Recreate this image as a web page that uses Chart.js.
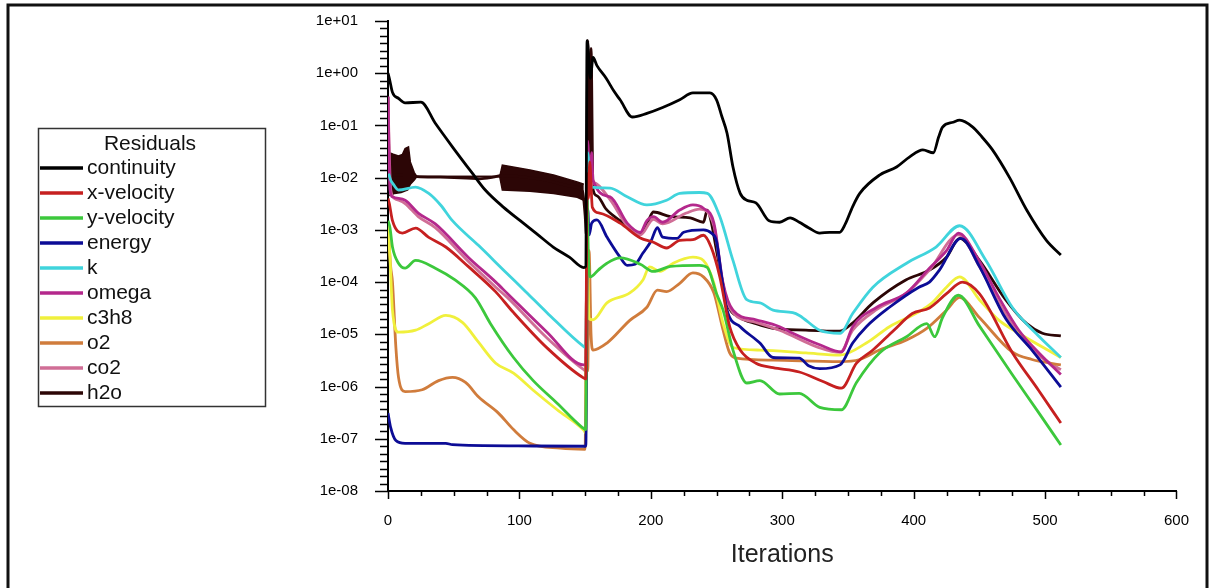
<!DOCTYPE html>
<html>
<head>
<meta charset="utf-8">
<script src="https://cdn.jsdelivr.net/npm/chart.js@4/dist/chart.umd.min.js"></script>
<style>
html,body{margin:0;padding:0;background:#fff;}
canvas{display:block;}
</style>
</head>
<body>
<canvas id="residuals" width="1210" height="588"></canvas>
<script>
// residual histories as [iteration, residual]
const continuity = [[0,1.0],[1,0.8],[3.4,0.43],[8,0.33],[13,0.27],[25,0.28],[36,0.11],[49,0.039],[64,0.0123],[74,0.0058],[88,0.0027],[100.6,0.0015],[113,0.00085],[125.7,0.00047],[138,0.0003],[149,0.00019],[150.5,0.0002],[151.5,4.2],[154,0.8],[156,2.0],[159,1.4],[166,0.8],[172,0.45],[176.6,0.31],[186,0.145],[197,0.17],[209,0.22],[222,0.31],[232,0.42],[245,0.42],[250,0.31],[254,0.15],[258,0.071],[262.5,0.016],[268,0.005],[273,0.0037],[280,0.0033],[290,0.0015],[298,0.0014],[306,0.0017],[313,0.0014],[320,0.0011],[328.5,0.00087],[336,0.0009],[343.7,0.0009],[348,0.0013],[353.6,0.0028],[359,0.005],[374,0.0112],[387,0.016],[397,0.025],[407,0.034],[415,0.03],[419,0.06],[422,0.093],[430,0.115],[435,0.126],[445,0.093],[452,0.06],[460,0.034],[473,0.010],[486,0.0024],[501,0.00063],[512,0.00033]];
const xVelocity = [[0,0.004],[1,0.0032],[3.4,0.0015],[11,0.00087],[21,0.00108],[31,0.00072],[44,0.00047],[61,0.0002],[82,0.000065],[95,0.000027],[121,0.0000055],[149,0.00000145],[150.5,0.0000014],[151.5,0.012],[152.5,0.004],[153.5,0.02],[155.5,0.0027],[161,0.0021],[176.6,0.00135],[192,0.0007],[202,0.00058],[212,0.00045],[222,0.00063],[232,0.00065],[240,0.00079],[246,0.00046],[252.5,0.000126],[260,0.000014],[268,0.000005],[280,0.0000028],[293,0.0000023],[313,0.0000019],[331,0.00000125],[345,0.00000093],[356.5,0.0000028],[369,0.000005],[385,0.000012],[399,0.000025],[412,0.000032],[425,0.00006],[437,0.0001],[450,0.00006],[475,0.0000045],[495,0.00000085],[512,0.0000002]];
const yVelocity = [[0,0.0015],[1.5,0.0011],[3.4,0.00047],[8,0.00023],[13,0.000185],[21,0.00026],[36,0.000185],[51,0.00011],[66.5,0.00005],[78,0.000016],[95.5,0.0000036],[110.5,0.0000013],[128.7,0.00000048],[147.7,0.000000166],[150.5,0.00000015],[151.5,0.004],[152.5,0.0003],[154,0.000126],[160,0.00017],[166.6,0.00023],[176.6,0.00029],[192,0.00022],[202,0.00016],[215,0.0002],[237,0.00021],[243,0.00019],[250,0.00006],[255,0.000029],[262.5,0.000005],[273,0.00000117],[283,0.0000013],[298,0.00000072],[313,0.00000074],[328.5,0.0000004],[345,0.00000036],[356.5,0.0000012],[374,0.0000044],[394.6,0.000009],[410,0.000016],[416,0.000009],[422,0.000021],[434,0.000056],[450,0.0000145],[475,0.0000017],[495,0.00000032],[512,0.000000076]];
const energy = [[0,0.00000031],[2,0.000000166],[6,0.000000093],[13,0.000000082],[44,0.000000082],[49,0.000000077],[99,0.000000073],[150.5,0.000000072],[152,0.0025],[153,0.0008],[155,0.00135],[159,0.00155],[166.6,0.00073],[176.6,0.0003],[182,0.00021],[188,0.00022],[194,0.00036],[200,0.0006],[205,0.0011],[209,0.00073],[220,0.00069],[225,0.0009],[240,0.001],[246,0.00087],[250,0.0006],[254,0.00012],[258,0.000029],[268,0.000014],[283,0.0000068],[293,0.0000036],[313,0.0000035],[320,0.0000025],[328.5,0.0000022],[344,0.0000026],[353.6,0.0000068],[364,0.000014],[381.6,0.000033],[404,0.00008],[412,0.0001],[419.6,0.00017],[436,0.00069],[450,0.0002],[470,0.00002],[490,0.000005],[512,0.00000098]];
const k = [[0.5,0.012],[2,0.009],[4,0.0075],[8,0.0058],[21,0.0066],[31,0.005],[40,0.003],[49,0.0015],[69,0.0005],[89,0.00016],[105,0.000065],[121,0.000026],[149,0.0000058],[150.5,0.0000055],[152,0.03],[153.5,0.008],[155,0.0066],[169,0.0063],[182,0.0043],[197,0.003],[212,0.0037],[222,0.005],[237,0.0052],[243,0.005],[252.5,0.0018],[262.5,0.00026],[273,0.000046],[283,0.00004],[293,0.000029],[308,0.000026],[313,0.000023],[328.5,0.000012],[344,0.0000105],[353.6,0.000025],[369,0.00008],[394.6,0.00023],[417,0.00047],[435,0.0012],[455,0.00026],[475,0.000033],[493,0.0000105],[512,0.0000036]];
const omega = [[0,0.36],[1.5,0.006],[3.4,0.0043],[13,0.0037],[23,0.0021],[36,0.0013],[61,0.0003],[82,0.0001],[91,0.00006],[121,0.000011],[149,0.0000026],[150.5,0.0000026],[152,0.05],[153.5,0.006],[155,0.03],[156,0.009],[169,0.0043],[182,0.00135],[192,0.0009],[197,0.0015],[202,0.0018],[209,0.0014],[222,0.0024],[232,0.003],[240,0.0026],[248,0.00135],[255,0.000095],[262.5,0.000029],[280,0.000019],[298,0.000014],[308,0.0000105],[328.5,0.0000063],[345,0.0000046],[353.6,0.000014],[372,0.000033],[394.6,0.000062],[412,0.000185],[425,0.0004],[434,0.00087],[450,0.00025],[465,0.00005],[480,0.000012],[495,0.0000045],[512,0.0000017]];
const c3h8 = [[0,0.0013],[1.5,0.0003],[3.4,0.000029],[8,0.000011],[21,0.000012],[31,0.000016],[44,0.000023],[56.6,0.000017],[69,0.000007],[82,0.0000028],[95.5,0.0000018],[110.5,0.00000085],[128.7,0.00000036],[149,0.000000145],[150.5,0.00000013],[151.5,0.001],[153,0.00002],[156,0.000019],[166.6,0.00004],[184,0.000062],[194,0.00011],[199,0.000195],[207,0.00016],[217,0.00023],[232,0.0003],[240,0.00026],[248,0.000095],[255,0.000016],[262.5,0.0000056],[283,0.000005],[318,0.0000044],[344,0.000004],[364,0.0000068],[381.6,0.000014],[404,0.000027],[414,0.00004],[425,0.00008],[435,0.000126],[450,0.000046],[465,0.0000185],[480,0.0000105],[512,0.0000036]];
const o2 = [[0,0.0012],[2,0.0002],[3.4,0.0001],[6,0.0000056],[8,0.0000015],[13,0.0000008],[26,0.00000087],[38.5,0.0000013],[49,0.0000015],[59,0.0000012],[69,0.00000063],[84,0.00000031],[95.5,0.00000015],[108,0.000000082],[131,0.000000066],[150,0.000000063],[151,0.00005],[152,0.000002],[153,0.0004],[154.5,0.00001],[156,0.000005],[166.6,0.0000068],[184,0.0000185],[197,0.000033],[205,0.00007],[212,0.000066],[222,0.000095],[232,0.00015],[240,0.000126],[248,0.000062],[255,0.000012],[260,0.0000044],[265,0.0000035],[293,0.0000032],[344,0.000003],[359,0.0000033],[374,0.000005],[394.6,0.0000078],[410,0.000013],[425,0.000029],[435,0.000051],[450,0.000021],[475,0.0000046],[490,0.0000033],[512,0.0000026]];
const co2 = [[0,0.3],[2,0.006],[5,0.004],[13,0.0032],[23,0.0018],[36,0.0011],[61,0.00025],[82,0.00008],[91,0.00005],[121,0.0000085],[149,0.0000021],[150.5,0.000002],[151.5,0.02],[153,0.005],[156,0.008],[169,0.0038],[182,0.0012],[192,0.0008],[202,0.0016],[209,0.0013],[227,0.0021],[237,0.0025],[248,0.0012],[255,0.00008],[262.5,0.000026],[280,0.000017],[298,0.000012],[328.5,0.0000055],[344,0.0000045],[353.6,0.000012],[372,0.00003],[394,0.00006],[412,0.00017],[434,0.0008],[450,0.0002],[465,0.00004],[480,0.00001],[495,0.000004],[512,0.0000021]];
const h2o = [[0,0.35],[1,0.012],[17,0.011],[22,0.0105],[40,0.0102],[60,0.0098],[70,0.0095],[80,0.0102],[87,0.011],[100,0.0105],[120,0.009],[140,0.0068],[148,0.0055],[150,0.0019],[151,0.0008],[152,4.2],[153.5,0.005],[154.5,3.0],[156,0.006],[159,0.0045],[166,0.0025],[176.6,0.0015],[186,0.001],[192,0.00087],[198,0.0015],[202,0.0022],[215,0.0018],[230,0.0017],[240,0.0014],[243,0.0024],[246,0.0014],[250,0.0004],[254,0.00012],[258,0.00004],[268,0.000021],[280,0.000016],[293,0.000013],[318,0.000012],[343.6,0.0000115],[353,0.000016],[369,0.00004],[394,0.00011],[412,0.00017],[425,0.0003],[435,0.00069],[450,0.00026],[470,0.000046],[486,0.000016],[498,0.0000105],[512,0.0000093]];
// envelope of the oscillating h2o stretches
const h2oBandTop = [[1,0.03],[4,0.028],[8,0.026],[11,0.028],[13,0.036],[15.6,0.039],[17,0.02],[20,0.0125],[22,0.0105],[85,0.0105],[87,0.0174],[108,0.014],[126,0.0112],[144,0.0083],[149,0.0075]];
const h2oBandBottom = [[1,0.0045],[5,0.005],[10,0.0052],[15,0.0058],[17,0.0075],[20,0.009],[22,0.0105],[85,0.0105],[87,0.0058],[108,0.0055],[126,0.005],[144,0.0042],[149,0.0037]];

const seriesNames = ['continuity','x-velocity','y-velocity','energy','k','omega','c3h8','o2','co2','h2o'];
const seriesData = [continuity, xVelocity, yVelocity, energy, k, omega, c3h8, o2, co2, h2o];
const seriesColors = ['#000000','#c62020','#3cc83c','#0c0c96','#40d4dc','#b4288c','#f0f03c','#d07c3c','#d06e96','#2c0606'];

const yTickValues = [1e1,1e0,1e-1,1e-2,1e-3,1e-4,1e-5,1e-6,1e-7,1e-8];
const yTickLabels = ['1e+01','1e+00','1e-01','1e-02','1e-03','1e-04','1e-05','1e-06','1e-07','1e-08'];
const xTickValues = [0,100,200,300,400,500,600];
const xTickLabels = ['0','100','200','300','400','500','600'];

const FONT = "'Liberation Sans', Arial, sans-serif";

const datasets = seriesNames.map((name, i) => ({
    label: name,
    data: seriesData[i],
    borderColor: seriesColors[i],
    borderWidth: 2.8,
    pointRadius: 0,
    cubicInterpolationMode: 'monotone',
    fill: false
}));
datasets.push({
    label: '',
    data: h2oBandTop,
    borderColor: seriesColors[9],
    borderWidth: 1.5,
    pointRadius: 0,
    fill: false
});
datasets.push({
    label: '',
    data: h2oBandBottom,
    borderColor: seriesColors[9],
    backgroundColor: seriesColors[9],
    borderWidth: 1.5,
    pointRadius: 0,
    fill: '-1'
});

// frame, tick marks and the boxed legend
const decor = {
    id: 'decor',
    afterDraw(chart) {
        const {ctx, scales: {x, y}} = chart;
        ctx.save();

        ctx.strokeStyle = '#111';
        ctx.lineWidth = 3;
        ctx.strokeRect(8, 5, 1199, 700);

        ctx.strokeStyle = '#000';
        ctx.lineWidth = 1.5;
        ctx.beginPath();
        for (let e = -8; e <= 1; e++) {
            const py = Math.round(y.getPixelForValue(Math.pow(10, e))) + 0.5;
            ctx.moveTo(x.left - 13, py);
            ctx.lineTo(x.left, py);
            if (e === 1) continue;
            for (let m = 1; m < 7; m++) {
                const my = Math.round(y.getPixelForValue(Math.pow(10, e + m / 7))) + 0.5;
                ctx.moveTo(x.left - 8, my);
                ctx.lineTo(x.left, my);
            }
        }
        for (let v = 0; v <= 600; v += 25) {
            const px = Math.round(x.getPixelForValue(v)) + 0.5;
            ctx.moveTo(px, y.bottom);
            ctx.lineTo(px, y.bottom + (v % 100 === 0 ? 8 : 5));
        }
        ctx.stroke();

        // legend
        ctx.strokeStyle = '#333';
        ctx.lineWidth = 1.5;
        ctx.strokeRect(38.5, 128.5, 227, 278);
        ctx.fillStyle = '#111';
        ctx.font = '21px ' + FONT;
        ctx.textBaseline = 'middle';
        ctx.textAlign = 'center';
        ctx.fillText('Residuals', 150, 144);
        ctx.textAlign = 'left';
        seriesNames.forEach((name, i) => {
            const ly = 168 + i * 25;
            ctx.strokeStyle = seriesColors[i];
            ctx.lineWidth = 3.5;
            ctx.beginPath();
            ctx.moveTo(40, ly);
            ctx.lineTo(83, ly);
            ctx.stroke();
            ctx.fillText(name, 87, ly);
        });
        ctx.restore();
    }
};

new Chart(document.getElementById('residuals'), {
    type: 'line',
    data: {datasets},
    options: {
        responsive: false,
        animation: false,
        devicePixelRatio: 1,
        layout: {padding: {left: 0, top: 21, right: 33, bottom: 0}},
        plugins: {legend: {display: false}, tooltip: {enabled: false}},
        scales: {
            x: {
                type: 'linear',
                min: 0,
                max: 600,
                afterFit: s => { s.height = 97; },
                afterBuildTicks: s => { s.ticks = xTickValues.map(v => ({value: v})); },
                grid: {display: false, drawTicks: false},
                border: {display: true, color: '#000', width: 2},
                ticks: {
                    autoSkip: false,
                    maxRotation: 0,
                    padding: 21,
                    color: '#000',
                    font: {family: FONT, size: 15},
                    callback: v => xTickLabels[xTickValues.indexOf(v)]
                },
                title: {
                    display: true,
                    text: 'Iterations',
                    color: '#222',
                    font: {family: FONT, size: 25},
                    padding: {top: 0, bottom: 18}
                }
            },
            y: {
                type: 'logarithmic',
                min: 1e-8,
                max: 10,
                afterFit: s => { s.width = 388; s.paddingTop = 0; s.paddingBottom = 0; },
                afterBuildTicks: s => { s.ticks = yTickValues.map(v => ({value: v})); },
                grid: {display: false, drawTicks: false},
                border: {display: true, color: '#000', width: 2},
                ticks: {
                    autoSkip: false,
                    padding: 30,
                    color: '#000',
                    font: {family: FONT, size: 15},
                    callback: v => yTickLabels[yTickValues.indexOf(v)]
                }
            }
        }
    },
    plugins: [decor]
});
</script>
</body>
</html>
